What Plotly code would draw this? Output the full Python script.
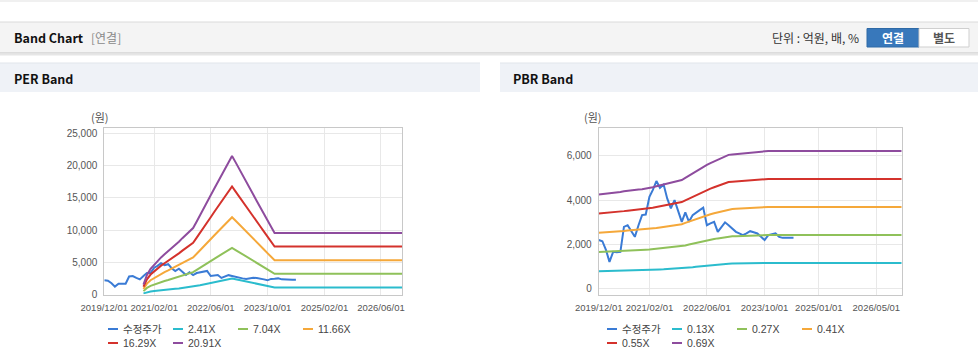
import plotly.graph_objects as go
import pandas as pd

W, H = 978, 362

# ---------------- data ----------------
price_dates = pd.date_range("2019-12-01", "2024-06-01", freq="MS")
price = [2200,
         2150, 1745, 1218, 1670, 1650, 1670, 2797, 2870, 2571, 2346, 2870, 3325,
         3350, 4150, 4452, 4858, 4550, 4700, 4077, 3627, 4001, 3476, 3022, 3450,
         3022, 3325, 3450, 3550, 3660, 2870, 2950, 3022, 2571, 2760, 3000, 2870,
         2720, 2571, 2500, 2420, 2500, 2600, 2550, 2500, 2346, 2200, 2420, 2450,
         2500, 2346, 2300, 2300, 2300, 2300]
price_name = "수정주가"

# PER band: EPS (band = EPS x multiple)
eps_dates = list(pd.date_range("2020-11-01", "2023-12-01", freq="MS")) + [pd.Timestamp("2026-12-01")]
eps = [74, 145,
       190, 220, 250, 275, 298, 320, 343, 367, 392, 418, 445, 470,
       493, 542, 590, 639, 688, 736, 785, 834, 882, 931, 980, 1028,
       980, 933, 885, 837, 790, 742, 694, 647, 599, 551, 504, 456,
       456]
per_multiples = [2.41, 7.04, 11.66, 16.29, 20.91]
per_labels = ["2.41X", "7.04X", "11.66X", "16.29X", "20.91X"]

# PBR band: BPS (band = BPS x multiple)
bps_dates = list(pd.date_range("2019-12-01", "2023-11-01", freq="MS")) + [pd.Timestamp("2026-12-01")]
bps = [6170,
       6190, 6210, 6230, 6260, 6290, 6330, 6370, 6410, 6440, 6470, 6490, 6510,
       6540, 6580, 6640, 6700, 6760, 6820, 6880, 6930, 6980, 7040, 7110, 7250,
       7400, 7550, 7690, 7830, 7960, 8090, 8210, 8320, 8430, 8530, 8640, 8750,
       8780, 8800, 8820, 8850, 8870, 8900, 8920, 8940, 8960, 8980, 9000,
       9000]
pbr_multiples = [0.13, 0.27, 0.41, 0.55, 0.69]
pbr_labels = ["0.13X", "0.27X", "0.41X", "0.55X", "0.69X"]

per_xticks = ["2019-12-01", "2021-02-01", "2022-06-01", "2023-10-01", "2025-02-01", "2026-06-01"]
pbr_xticks = ["2019-12-01", "2021-02-01", "2022-06-01", "2023-10-01", "2025-01-01", "2026-05-01"]
per_yticks = [0, 5000, 10000, 15000, 20000, 25000]
pbr_yticks = [0, 2000, 4000, 6000]

price_color = "#3a7bd5"
band_colors = ["#2bbccd", "#8fc15a", "#f5a83a", "#d4322c", "#8e4c9e"]

# ---------------- helpers ----------------
def X(p):
    return p / W

def Y(p):
    return 1 - p / H

LAT = "Liberation Sans, Arial, Noto Sans CJK KR, sans-serif"
KR = "Noto Sans CJK KR, Liberation Sans, sans-serif"

fig = go.Figure()

# PER traces
fig.add_trace(go.Scatter(x=price_dates, y=price, mode="lines", name=price_name,
                         line=dict(color=price_color, width=2), xaxis="x", yaxis="y"))
for m, lab, c in zip(per_multiples, per_labels, band_colors):
    fig.add_trace(go.Scatter(x=eps_dates, y=[e * m for e in eps], mode="lines", name=lab,
                             line=dict(color=c, width=2), xaxis="x", yaxis="y"))

# PBR traces
fig.add_trace(go.Scatter(x=price_dates, y=price, mode="lines", name=price_name,
                         line=dict(color=price_color, width=2), xaxis="x2", yaxis="y2"))
for m, lab, c in zip(pbr_multiples, pbr_labels, band_colors):
    fig.add_trace(go.Scatter(x=bps_dates, y=[b * m for b in bps], mode="lines", name=lab,
                             line=dict(color=c, width=2), xaxis="x2", yaxis="y2"))

ydom = [Y(294.5), Y(127.7)]
axis_common = dict(showgrid=True, gridcolor="#e8e8e8", gridwidth=1, showline=True,
                   linecolor="#c8c8c8", linewidth=1, mirror=True, zeroline=False,
                   automargin=False)

def xaxis(dom, ticks, anchor):
    return dict(domain=dom, type="date", range=["2019-12-01", "2026-12-01"],
                tickmode="array", tickvals=ticks,
                ticktext=[t.replace("-", "/") for t in ticks],
                tickfont=dict(family=LAT, size=9.5, color="#555"), tickangle=0,
                ticks="outside", ticklen=4, tickcolor="rgba(0,0,0,0)",
                anchor=anchor, **axis_common)

def yaxis(rng, ticks, anchor):
    return dict(domain=ydom, range=rng, tickmode="array", tickvals=ticks,
                ticktext=[f"{t:,}" for t in ticks],
                tickfont=dict(family=LAT, size=10, color="#555"),
                ticks="outside", ticklen=4, tickcolor="rgba(0,0,0,0)",
                anchor=anchor, **axis_common)

shapes = []
annotations = []

def rect(x0, y0, x1, y1, fill, line=None, lw=0):
    shapes.append(dict(type="rect", xref="paper", yref="paper", layer="below",
                       x0=X(x0), x1=X(x1), y0=Y(y1), y1=Y(y0), fillcolor=fill,
                       line=dict(width=lw, color=line or fill)))

def hline(x0, x1, y, color, w=1):
    shapes.append(dict(type="line", xref="paper", yref="paper", layer="below",
                       x0=X(x0), x1=X(x1), y0=Y(y), y1=Y(y), line=dict(color=color, width=w)))

def text(x, y, s, size=12, color="#222", anchor="left", family=KR):
    annotations.append(dict(xref="paper", yref="paper", x=X(x), y=Y(y), text=s,
                            showarrow=False, xanchor=anchor, yanchor="middle",
                            font=dict(family=family, size=size, color=color)))

# top strip
rect(0, 0, W, 2, "#f0f0f0")
# main header bar
rect(0, 22, W, 53, "#f4f4f4")
hline(0, W, 22, "#dadada")
hline(0, W, 53, "#c4c4c4")
hline(0, W, 54.5, "#e6e6e6", 2)
text(12, 38, "<b>Band Chart</b>", 12.5, "#111")
text(89, 38, "[연결]", 12, "#8a8a8a")
text(861, 38, "단위 : 억원, 배, %", 12, "#333", "right")
rect(867, 28.5, 919, 47, "#3878bb", "#2f6aa6", 1)
rect(919, 28.5, 969, 47, "#ffffff", "#cfcfcf", 1)
text(893, 38, "<b>연결</b>", 12, "#ffffff", "center")
text(944, 38, "<b>별도</b>", 12, "#555", "center")

# sub headers
rect(0, 63, 480, 92, "#eff2f7")
hline(0, 480, 63, "#e1e5eb")
rect(500, 63, W, 92, "#eff2f7")
hline(500, W, 63, "#e1e5eb")
text(12, 78, "<b>PER Band</b>", 12.5, "#111")
text(511, 78, "<b>PBR Band</b>", 12.5, "#111")

# unit labels
text(100, 117.5, "(원)", 11, "#555", "center")
text(593, 117.5, "(원)", 11, "#555", "center")

# custom legends
def legend(base_x, labels):
    entries = [(price_name, price_color)] + list(zip(labels, band_colors))
    for i, (name, col) in enumerate(entries):
        r, c = divmod(i, 4)
        x0 = base_x + 65 * c
        y = 329 + 14 * r
        shapes.append(dict(type="line", xref="paper", yref="paper",
                           x0=X(x0), x1=X(x0 + 10), y0=Y(y), y1=Y(y),
                           line=dict(color=col, width=2)))
        text(x0 + 13, y, name, 10.5, "#444", "left", LAT)

legend(108, per_labels)
legend(607, pbr_labels)

fig.update_layout(
    template="none",
    width=W, height=H, autosize=False,
    margin=dict(l=0, r=0, t=0, b=0, pad=0, autoexpand=False),
    paper_bgcolor="white", plot_bgcolor="white",
    showlegend=False,
    xaxis=xaxis([X(104.3), X(402.3)], per_xticks, "y"),
    yaxis=yaxis([0, 25870], per_yticks, "x"),
    xaxis2=xaxis([X(598.7), X(901.7)], pbr_xticks, "y2"),
    yaxis2=yaxis([-250, 7260], pbr_yticks, "x2"),
    shapes=shapes,
    annotations=annotations,
    hovermode=False,
)

fig.write_html("out.html", config={"displayModeBar": False, "responsive": False},
               post_script="document.body.style.margin='0px';document.body.style.overflow='hidden';")
